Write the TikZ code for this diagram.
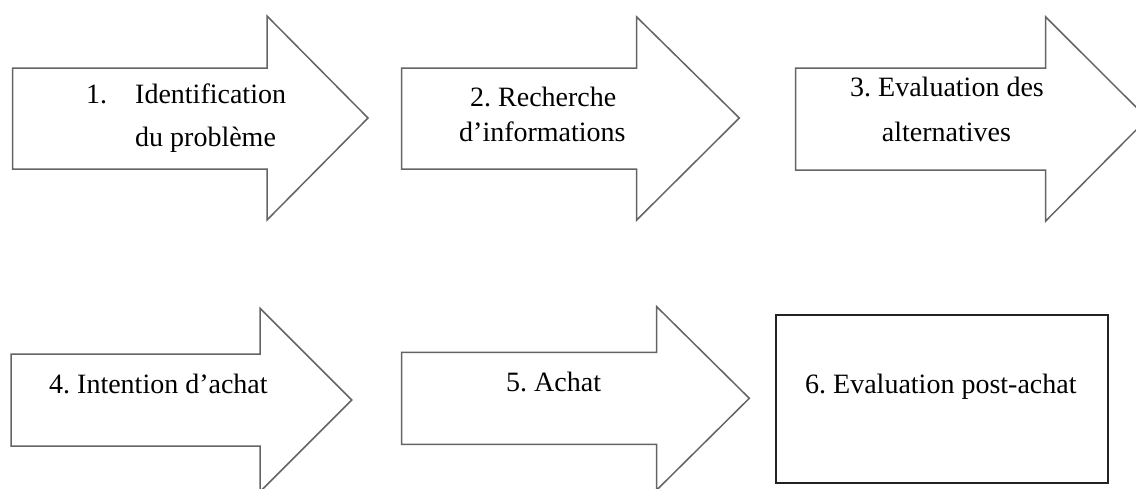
\documentclass[tikz,border=0pt]{standalone}
\usepackage{fontspec}
\setmainfont{Liberation Serif}
\frenchspacing
\definecolor{arrowline}{RGB}{100,100,100}
\definecolor{boxline}{RGB}{35,35,35}
\tikzset{
  stagearrow/.style={draw=arrowline, line width=1.5pt, fill=white, line join=miter},
  stagebox/.style={draw=boxline, line width=2pt, fill=white},
  label/.style={inner sep=0pt, anchor=base west, font=\fontsize{28}{34}\selectfont, text=black},
}
\begin{document}
\begin{tikzpicture}[x=1pt, y=-1pt]
  \useasboundingbox (0,0) rectangle (1136,488);
  \clip (0,0) rectangle (1136,488);

  % top row of block arrows
  \draw[stagearrow] (12.7,68) -- (267,68) -- (267,16) -- (368,118)
    -- (267,220) -- (267,169) -- (12.7,169) -- cycle;
  \draw[stagearrow] (401.7,68) -- (636.7,68) -- (636.7,17) -- (739.3,118)
    -- (636.7,220) -- (636.7,169) -- (401.7,169) -- cycle;
  \draw[stagearrow] (795.7,68) -- (1045.7,68) -- (1045.7,17) -- (1147.5,118.5)
    -- (1045.7,221) -- (1045.7,170) -- (795.7,170) -- cycle;

  % bottom row: two arrows and the final box
  \draw[stagearrow] (11,354) -- (260,354) -- (260,308.3) -- (351.7,400)
    -- (260,491.7) -- (260,446) -- (11,446) -- cycle;
  \draw[stagearrow] (401.7,352.3) -- (656.7,352.3) -- (656.7,306.7) -- (749.3,398.3)
    -- (656.7,490) -- (656.7,444.3) -- (401.7,444.3) -- cycle;
  \draw[stagebox] (775.7,315) rectangle (1108.3,482.7);

  % stage labels
  \node[label] (s1a) at (86,103.3) {1.\hspace{28pt}Identification};
  \node[label] (s1b) at (135,146.7) {du problème};
  \node[label] (s2a) at (470,106) {2. Recherche};
  \node[label] (s2b) at (459,141.7) {d’informations};
  \node[label] (s3a) at (850,96.7) {3. Evaluation des};
  \node[label] (s3b) at (881.7,141.7) {alternatives};
  \node[label] (s4) at (49,393) {4. Intention d’achat};
  \node[label] (s5) at (506,391.7) {5. Achat};
  \node[label] (s6) at (805,393.3) {6. Evaluation post-achat};
\end{tikzpicture}
\end{document}
